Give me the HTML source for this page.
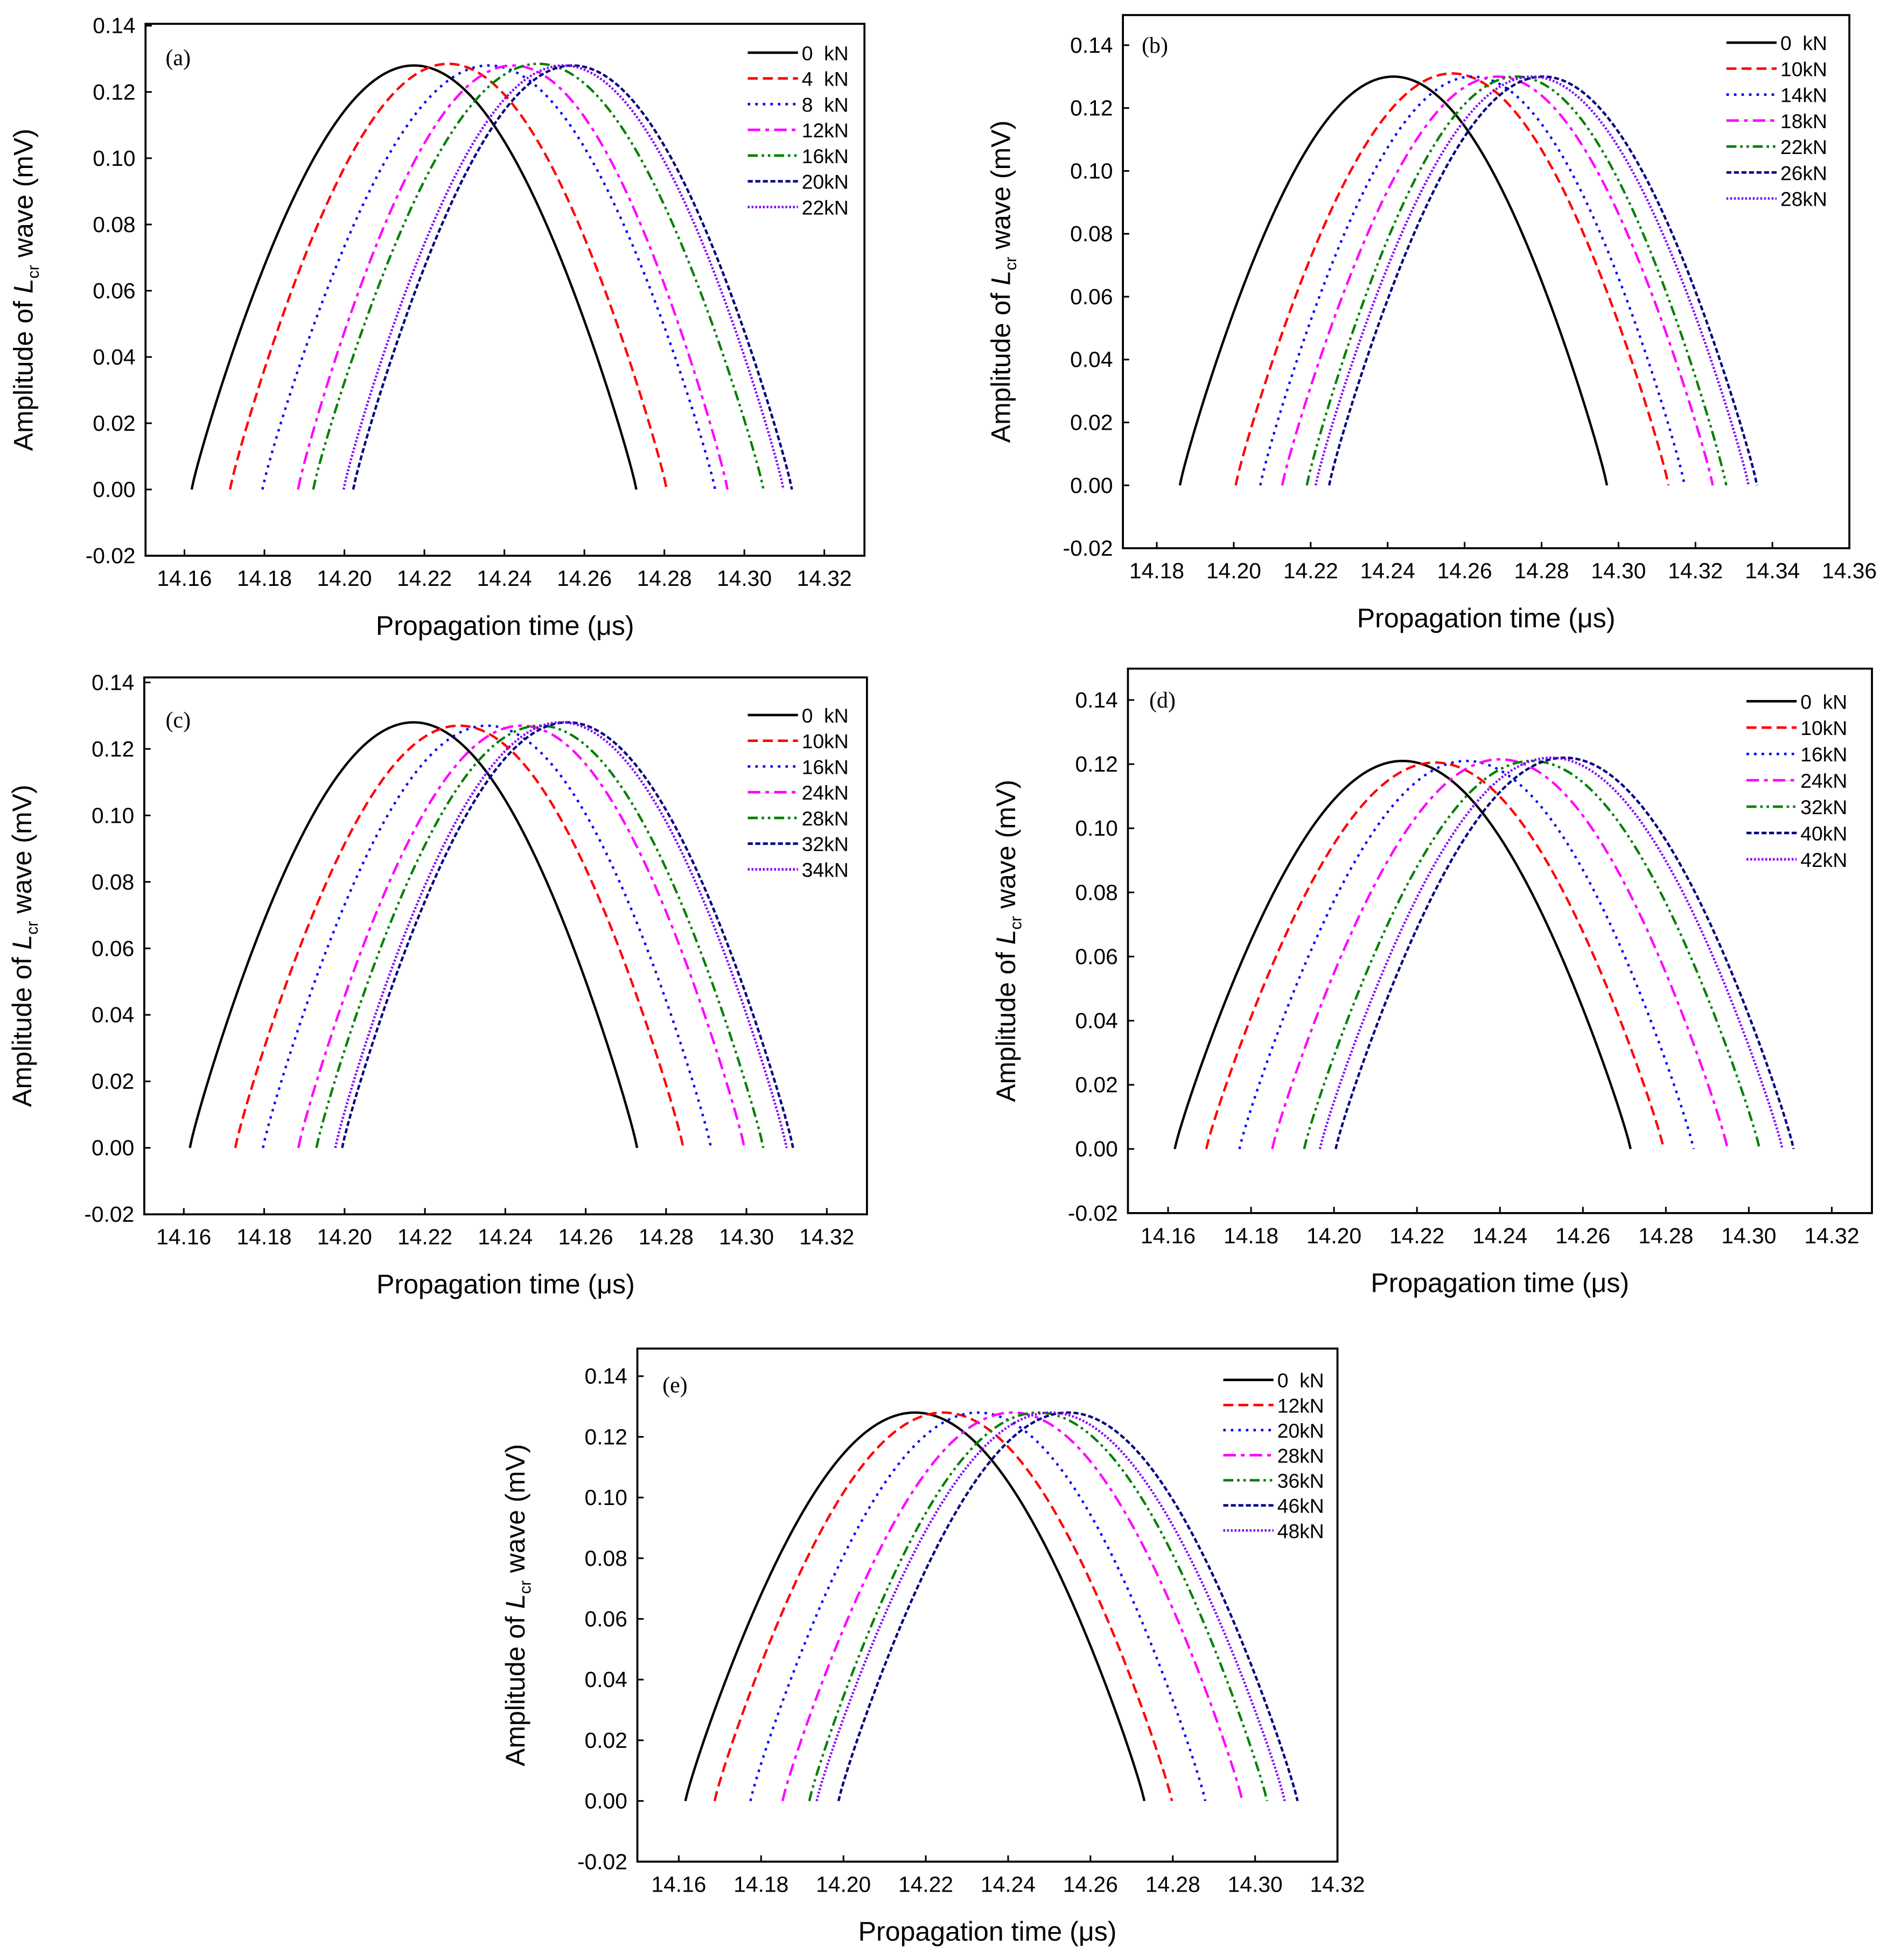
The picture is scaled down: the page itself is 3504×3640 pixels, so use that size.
<!DOCTYPE html>
<html><head><meta charset="utf-8"><style>
html,body{margin:0;padding:0;background:#fff}
svg{display:block}
text{font-family:"Liberation Sans",sans-serif;fill:#000;white-space:pre}
.tick{font-size:17.5px}
.leg{font-family:"Liberation Sans Narrow","Liberation Sans",sans-serif;font-size:16px}
.ttl{font-size:21.5px}
.pl{font-family:"Liberation Serif",serif;font-size:18px}
</style></head><body>
<svg id="fig" width="3504" height="3640" viewBox="0 0 1504 1562.4" preserveAspectRatio="none" xmlns="http://www.w3.org/2000/svg"></svg>
<script>
// ---- data ----
const seriesColors = ['#000000','#ff0000','#0000ff','#ff00ff','#008000','#000080','#8000ff'];
const seriesDash = ['none','8,4','2,4','10,4,3,4','8,3,2,3,2,3','4,2','1.5,1.5'];
const labelsA = ['0  kN','4  kN','8  kN','12kN','16kN','20kN','22kN'];
const labelsB = ['0  kN','10kN','14kN','18kN','22kN','26kN','28kN'];
const labelsC = ['0  kN','10kN','16kN','24kN','28kN','32kN','34kN'];
const labelsD = ['0  kN','10kN','16kN','24kN','32kN','40kN','42kN'];
const labelsE = ['0  kN','12kN','20kN','28kN','36kN','46kN','48kN'];
const startA = [14.1618,14.1714,14.1795,14.1884,14.1922,14.2022,14.1998];
const endA   = [14.273,14.2806,14.2927,14.2958,14.3048,14.3119,14.3098];
const peakA  = [0.128,0.1285,0.128,0.128,0.1285,0.128,0.128];
const startB = [14.186,14.2005,14.2069,14.2126,14.219,14.2248,14.2213];
const endB   = [14.297,14.313,14.3172,14.3245,14.328,14.336,14.3338];
const peakB  = [0.130,0.131,0.130,0.130,0.130,0.130,0.130];
const startC = [14.1615,14.1728,14.1797,14.1885,14.193,14.1994,14.1977];
const endC   = [14.2728,14.2843,14.2912,14.2995,14.3042,14.3116,14.31];
const peakC  = [0.128,0.127,0.127,0.127,0.127,0.128,0.128];
const startD = [14.1616,14.1692,14.1772,14.1851,14.1928,14.2004,14.1966];
const endD   = [14.2715,14.2795,14.2867,14.2949,14.3026,14.3108,14.3081];
const peakD  = [0.121,0.1205,0.121,0.1215,0.121,0.122,0.122];
const startE = [14.1616,14.1687,14.1774,14.1852,14.1917,14.1988,14.1935];
const endE   = [14.2731,14.2798,14.2879,14.2969,14.3029,14.3103,14.3072];
const peakE  = [0.128,0.128,0.128,0.128,0.128,0.128,0.128];
const xTicksAC = ['14.16','14.18','14.20','14.22','14.24','14.26','14.28','14.30','14.32'];
const xTicksB  = ['14.18','14.20','14.22','14.24','14.26','14.28','14.30','14.32','14.34','14.36'];
const yTicks   = ['-0.02','0.00','0.02','0.04','0.06','0.08','0.10','0.12','0.14'];

const NS='http://www.w3.org/2000/svg';
const svg=document.getElementById('fig');
function mk(tag,attrs,parent){const e=document.createElementNS(NS,tag);for(const k in attrs)e.setAttribute(k,attrs[k]);(parent||svg).appendChild(e);return e;}

function panel(p){
  const g=mk('g',{});
  
  
  const xs=v=>p.x0px+(v-p.x0)*(p.x1px-p.x0px)/(p.x1-p.x0);
  const ys=v=>p.y0px+(v-p.y0)*(p.y1px-p.y0px)/(p.y1-p.y0);
  for(let i=0;i<p.start.length;i++){
    let d='';const N=200;
    for(let k=0;k<=N;k++){const u=k/N;const t=p.start[i]+u*(p.end[i]-p.start[i]);
      const a=p.peak[i]*Math.pow(Math.sin(Math.PI*u),0.9);
      d+=(k?'L':'M')+xs(t).toFixed(2)+','+ys(a).toFixed(2);}
    const path=mk('path',{d:d,fill:'none',stroke:seriesColors[i],'stroke-width':1.9,'stroke-dasharray':seriesDash[i]},g);
    
    
    const ly=p.legY+i*p.legStep;
    const ll=mk('line',{x1:p.legX,y1:ly,x2:p.legX+40,y2:ly,stroke:seriesColors[i],'stroke-width':2,'stroke-dasharray':seriesDash[i]},g);
    
    
    const lt=mk('text',{x:p.legX+43,y:ly+6,'class':'leg'},g);lt.textContent=p.labels[i];
    
    
  }
  const fr=mk('rect',{x:p.fx0,y:p.fy0,width:p.fx1-p.fx0,height:p.fy1-p.fy0,fill:'none',stroke:'#000','stroke-width':1.6},g);
  
  
  p.xt.forEach(s=>{const v=parseFloat(s),x=xs(v);
    if(x<p.fx1-2) mk('line',{x1:x,y1:p.fy1,x2:x,y2:p.fy1-5,stroke:'#000','stroke-width':1.3},g);
    const t=mk('text',{x:x,y:p.fy1+24,'text-anchor':'middle','class':'tick'},g);t.textContent=s;
    
    });
  yTicks.forEach(s=>{const v=parseFloat(s),y=ys(v);if(y<p.fy0-2)return;
    mk('line',{x1:p.fx0,y1:y,x2:p.fx0+5,y2:y,stroke:'#000','stroke-width':1.3},g);
    const t=mk('text',{x:p.fx0-8,y:y+6,'text-anchor':'end','class':'tick'},g);t.textContent=s;
    
    });
  const xt=mk('text',{x:(p.fx0+p.fx1)/2,y:p.fy1+63,'text-anchor':'middle','class':'ttl'},g);
  xt.textContent='Propagation time (μs)';
  
  
  const cy=(p.fy0+p.fy1)/2,cx=p.fx0-90;
  const yt=mk('text',{x:cx,y:cy,'text-anchor':'middle','class':'ttl',transform:'rotate(-90 '+cx+' '+cy+')'},g);
  yt.innerHTML='Amplitude of <tspan font-style="italic">L</tspan><tspan font-size="13" dy="5">cr</tspan><tspan dy="-5"> wave (mV)</tspan>';
  
  
  const pl=mk('text',{x:p.plx,y:p.ply,'class':'pl'},g);pl.textContent='('+p.id+')';
  
  
}

panel({id:'a',fx0:116,fy0:19,fx1:689,fy1:443,x0:14.16,x0px:147,x1:14.32,x1px:657,y0:0.14,y0px:20.5,y1:-0.02,y1px:443,
  start:startA,end:endA,peak:peakA,labels:labelsA,xt:xTicksAC,legX:596,legY:42,legStep:20.5,plx:132,ply:52});
panel({id:'b',fx0:895,fy0:12,fx1:1474,fy1:437,x0:14.18,x0px:922,x1:14.36,x1px:1474,y0:0.14,y0px:36,y1:-0.02,y1px:437,
  start:startB,end:endB,peak:peakB,labels:labelsB,xt:xTicksB,legX:1376,legY:34,legStep:20.7,plx:910,ply:42});
panel({id:'c',fx0:115,fy0:540,fx1:691,fy1:968,x0:14.16,x0px:146.5,x1:14.32,x1px:659,y0:0.14,y0px:544,y1:-0.02,y1px:968,
  start:startC,end:endC,peak:peakC,labels:labelsC,xt:xTicksAC,legX:596,legY:570,legStep:20.5,plx:132,ply:580});
panel({id:'d',fx0:899,fy0:533,fx1:1492,fy1:967,x0:14.16,x0px:931,x1:14.32,x1px:1460,y0:0.14,y0px:558,y1:-0.02,y1px:967,
  start:startD,end:endD,peak:peakD,labels:labelsD,xt:xTicksAC,legX:1392,legY:559,legStep:21,plx:916,ply:564});
panel({id:'e',fx0:508,fy0:1075,fx1:1066,fy1:1484,x0:14.16,x0px:541,x1:14.32,x1px:1066,y0:0.14,y0px:1097,y1:-0.02,y1px:1484,
  start:startE,end:endE,peak:peakE,labels:labelsE,xt:xTicksAC,legX:975,legY:1100,legStep:20,plx:528,ply:1110});
</script>
</body></html>
